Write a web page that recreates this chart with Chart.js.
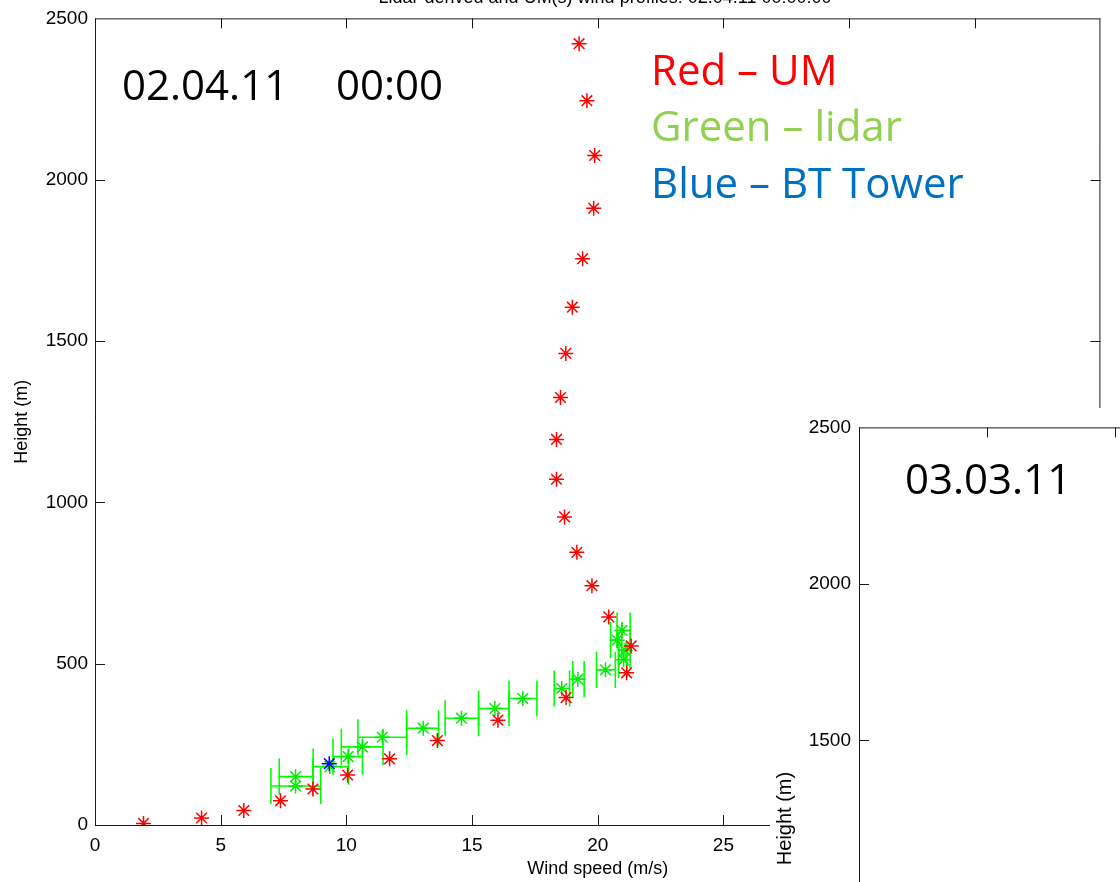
<!DOCTYPE html>
<html>
<head>
<meta charset="utf-8">
<script src="https://cdn.jsdelivr.net/npm/chart.js@4.4.1/dist/chart.umd.min.js"></script>
<style>
html,body{margin:0;padding:0;background:#fff;overflow:hidden;width:1120px;height:882px;}
#mainWrap{position:absolute;left:0;top:0;width:1120px;height:882px;}
#insetWrap{position:absolute;left:770px;top:408px;width:350px;height:474px;overflow:hidden;background:#fff;}
canvas{display:block;}
</style>
</head>
<body>
<div id="mainWrap"><canvas id="main" width="1120" height="882"></canvas></div>
<div id="insetWrap"><canvas id="inset" width="1114" height="821"></canvas></div>
<script>
// ---- data ----
const titleText = 'Lidar-derived and UM(s) wind profiles: 02.04.11 00:00:00';
const umHeight = [5, 21.7, 45, 75, 111.7, 155, 205, 261.7, 325, 395, 471.7, 555, 645, 741.7, 845, 955, 1071.7, 1195, 1325, 1461.7, 1605, 1755, 1911.7, 2075, 2245, 2421.7];
const umSpeed  = [1.93, 4.24, 5.92, 7.38, 8.67, 10.05, 11.72, 13.62, 16.03, 18.74, 21.15, 21.33, 20.44, 19.77, 19.17, 18.68, 18.36, 18.36, 18.52, 18.73, 18.99, 19.40, 19.84, 19.88, 19.57, 19.26];
const lidarHeight = [121, 150, 181, 212, 242, 272, 300, 331, 361, 392, 423, 452, 481, 512, 542, 573, 603];
const lidarSpeed  = [7.98, 7.98, 9.34, 10.07, 10.64, 11.43, 13.06, 14.58, 15.91, 17.02, 18.57, 19.21, 20.31, 21.03, 21.09, 20.77, 20.96];
const lidarLow    = [7.00, 7.33, 8.68, 9.47, 9.80, 10.46, 12.40, 13.93, 15.26, 16.47, 18.27, 19.01, 19.95, 20.83, 20.83, 20.51, 20.77];
const lidarHigh   = [8.98, 8.66, 10.09, 10.64, 11.46, 12.40, 13.67, 15.26, 16.47, 17.58, 18.88, 19.46, 20.70, 21.16, 21.29, 20.96, 21.29];
const btHeight = [190];
const btSpeed  = [9.32];
const xTicks = [0, 5, 10, 15, 20, 25, 30, 35, 40];
const yTicks = [0, 500, 1000, 1500, 2000, 2500];
const dateLabel = '02.04.11';
const timeLabel = '00:00';
const legendLines = ['Red \u2013 UM', 'Green \u2013 lidar', 'Blue \u2013 BT Tower'];
const legendColors = ['#ff0000', '#92d050', '#0070c0'];
const insetDate = '03.03.11';

const pts = (xs, ys) => xs.map((v, i) => ({x: v, y: ys[i]}));
const TICKFONT = {family: 'Liberation Sans, Arial, sans-serif', size: 19};
const TITLEFONT = {family: 'Liberation Sans, Arial, sans-serif', size: 18};
const BIGFONT = '42px "Open Sans"';
const plain = v => String(v);

function frameTicks(chart, sides) {
  const {ctx, chartArea: a, scales: {x, y}} = chart;
  ctx.save();
  ctx.strokeStyle = '#1a1a1a';
  ctx.lineWidth = 1;
  ctx.beginPath();
  if (sides.top) { ctx.moveTo(a.left, a.top + 0.5); ctx.lineTo(a.right, a.top + 0.5); }
  if (sides.bottom) { ctx.moveTo(a.left, a.bottom + 0.5); ctx.lineTo(a.right, a.bottom + 0.5); }
  if (sides.left) { ctx.moveTo(a.left + 0.5, a.top); ctx.lineTo(a.left + 0.5, a.bottom + 1); }
  if (sides.right) { ctx.moveTo(a.right - 0.5, a.top); ctx.lineTo(a.right - 0.5, a.bottom + 1); }
  const L = 10;
  xTicks.forEach(v => {
    const px = Math.round(x.getPixelForValue(v)) + 0.5;
    if (px <= a.left + 1 || px >= a.right - 1) return;
    if (sides.bottom) { ctx.moveTo(px, a.bottom); ctx.lineTo(px, a.bottom - L); }
    if (sides.top) { ctx.moveTo(px, a.top); ctx.lineTo(px, a.top + L); }
  });
  yTicks.forEach(v => {
    const py = Math.round(y.getPixelForValue(v)) + 0.5;
    if (py <= a.top + 1 || py >= a.bottom - 1) return;
    if (sides.left) { ctx.moveTo(a.left, py); ctx.lineTo(a.left + L, py); }
    if (sides.right) { ctx.moveTo(a.right, py); ctx.lineTo(a.right - L, py); }
  });
  ctx.stroke();
  ctx.restore();
}

const errPlugin = {
  id: 'errbars',
  beforeDatasetsDraw(chart) {
    const {ctx, scales: {x, y}} = chart;
    ctx.save();
    ctx.strokeStyle = '#00ff00';
    ctx.lineWidth = 1.6;
    lidarHeight.forEach((h, i) => {
      const py = y.getPixelForValue(h);
      const capTop = y.getPixelForValue(h + 56), capBot = y.getPixelForValue(h - 56);
      const x0 = x.getPixelForValue(lidarLow[i]), x1 = x.getPixelForValue(lidarHigh[i]);
      ctx.beginPath();
      ctx.moveTo(x0, py); ctx.lineTo(x1, py);
      ctx.moveTo(x0, capTop); ctx.lineTo(x0, capBot);
      ctx.moveTo(x1, capTop); ctx.lineTo(x1, capBot);
      ctx.stroke();
    });
    ctx.restore();
  }
};

const mainDecor = {
  id: 'mainDecor',
  afterDraw(chart) {
    frameTicks(chart, {top: true, bottom: true, left: true, right: true});
    const ctx = chart.ctx;
    ctx.save();
    ctx.fillStyle = '#000';
    ctx.font = '18px "Liberation Sans", Arial, sans-serif';
    ctx.textAlign = 'center';
    ctx.textBaseline = 'alphabetic';
    ctx.fillText(titleText, 605, 3);
    ctx.textAlign = 'left';
    ctx.font = BIGFONT;
    ctx.fillText(dateLabel, 122, 100);
    ctx.fillText(timeLabel, 336, 100);
    const baselines = [85, 141, 198];
    legendLines.forEach((t, i) => {
      ctx.fillStyle = legendColors[i];
      ctx.fillText(t, 651, baselines[i]);
    });
    ctx.restore();
  }
};

const star = (color) => ({
  pointStyle: 'star', pointRadius: 7.5, pointHoverRadius: 7.5,
  borderColor: color, backgroundColor: color, pointBorderWidth: 1.5, borderWidth: 1.5, showLine: false
});

new Chart(document.getElementById('main'), {
  type: 'scatter',
  data: {
    datasets: [
      Object.assign({label: 'BT Tower', data: pts(btSpeed, btHeight)}, star('#0000ff')),
      Object.assign({label: 'UM', data: pts(umSpeed, umHeight)}, star('#ff0000')),
      Object.assign({label: 'lidar', data: pts(lidarSpeed, lidarHeight)}, star('#00ee00'))
    ]
  },
  options: {
    responsive: false, animation: false, devicePixelRatio: 1,
    layout: {padding: {top: 18, right: 1, left: 0, bottom: 0}},
    plugins: {legend: {display: false}, tooltip: {enabled: false}, title: {display: false}},
    scales: {
      x: {
        type: 'linear', min: 0, max: 40,
        afterBuildTicks: s => { s.ticks = xTicks.map(v => ({value: v})); },
        afterFit: s => { s.height = 57; },
        grid: {display: false, drawTicks: false},
        border: {display: false},
        ticks: {padding: 9, font: TICKFONT, color: '#000', maxRotation: 0, autoSkip: false, callback: plain},
        title: {display: true, text: 'Wind speed (m/s)', font: TITLEFONT, color: '#000', padding: {top: 0, bottom: 2}}
      },
      y: {
        type: 'linear', min: 0, max: 2500,
        afterBuildTicks: s => { s.ticks = yTicks.map(v => ({value: v})); },
        afterFit: s => { s.width = 95; },
        grid: {display: false, drawTicks: false},
        border: {display: false},
        ticks: {padding: 7, font: TICKFONT, color: '#000', autoSkip: false, callback: plain},
        title: {display: true, text: 'Height (m)', font: TITLEFONT, color: '#000', padding: {top: 11, bottom: 0}}
      }
    }
  },
  plugins: [errPlugin, mainDecor]
});

const insetDecor = {
  id: 'insetDecor',
  afterDraw(chart) {
    frameTicks(chart, {top: true, bottom: false, left: true, right: false});
    const ctx = chart.ctx;
    ctx.save();
    ctx.fillStyle = '#000';
    ctx.font = BIGFONT;
    ctx.textAlign = 'left';
    ctx.textBaseline = 'alphabetic';
    ctx.fillText(insetDate, 135, 86);
    ctx.restore();
  }
};

new Chart(document.getElementById('inset'), {
  type: 'scatter',
  data: {datasets: []},
  options: {
    responsive: false, animation: false, devicePixelRatio: 1,
    layout: {padding: {top: 14, right: 1, left: 0, bottom: 0}},
    plugins: {legend: {display: false}, tooltip: {enabled: false}},
    scales: {
      x: {type: 'linear', min: 0, max: 40, display: false},
      y: {
        type: 'linear', min: 0, max: 2500,
        afterBuildTicks: s => { s.ticks = yTicks.map(v => ({value: v})); },
        afterFit: s => { s.width = 89; },
        grid: {display: false, drawTicks: false},
        border: {display: false},
        ticks: {padding: 8, font: TICKFONT, color: '#000', autoSkip: false, callback: plain},
        title: {display: true, text: 'Height (m)', font: {family: 'Liberation Sans, Arial, sans-serif', size: 20}, color: '#000', padding: {top: 3, bottom: 0}}
      }
    }
  },
  plugins: [insetDecor]
});
</script>
</body>
</html>
